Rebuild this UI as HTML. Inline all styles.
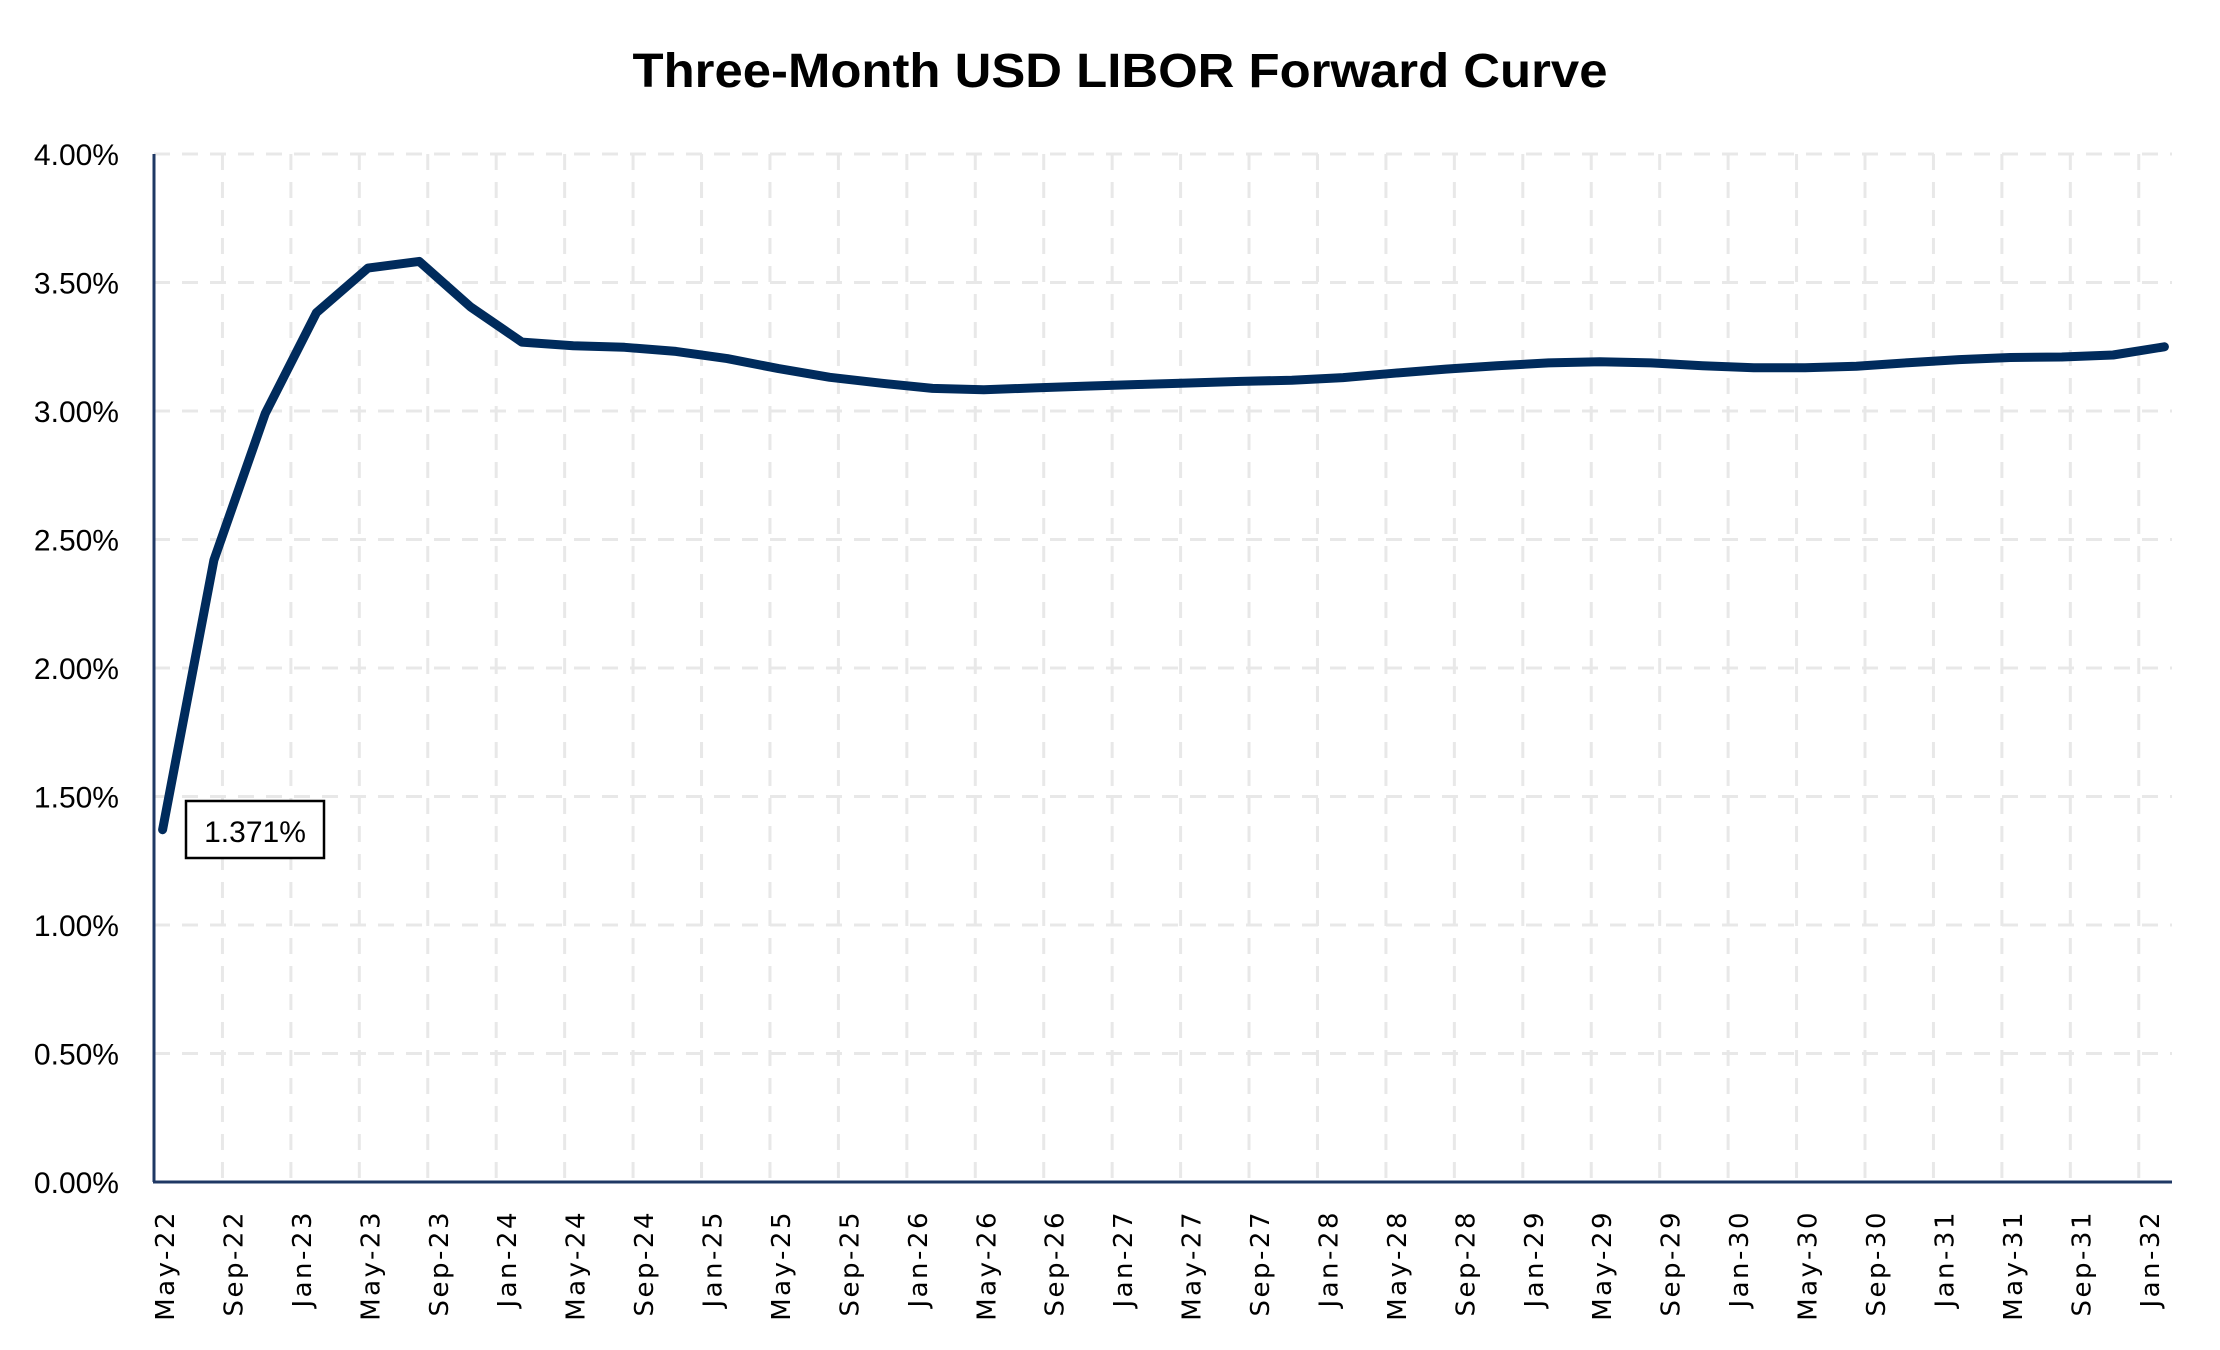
<!DOCTYPE html>
<html><head><meta charset="utf-8"><style>
html,body{margin:0;padding:0;background:#fff;}
svg{display:block;}
</style></head><body>
<svg id="chart" width="2220" height="1350" viewBox="0 0 2220 1350" xmlns="http://www.w3.org/2000/svg">
<text x="1120" y="87" text-anchor="middle" font-family="Liberation Sans, sans-serif" font-weight="bold" font-size="48" textLength="975" lengthAdjust="spacingAndGlyphs">Three-Month USD LIBOR Forward Curve</text>
<g id="grid"></g>
<g id="yticks"></g>
<g id="xticks"></g>
<g id="series"></g>
<g id="axes"></g>
<g id="annot"></g>
</svg>
<script>
const tickLabels = ["May-22","Sep-22","Jan-23","May-23","Sep-23","Jan-24","May-24","Sep-24","Jan-25","May-25","Sep-25","Jan-26","May-26","Sep-26","Jan-27","May-27","Sep-27","Jan-28","May-28","Sep-28","Jan-29","May-29","Sep-29","Jan-30","May-30","Sep-30","Jan-31","May-31","Sep-31","Jan-32"];
const yTicks = [0,0.5,1,1.5,2,2.5,3,3.5,4];
const yTickLabels = ["0.00%","0.50%","1.00%","1.50%","2.00%","2.50%","3.00%","3.50%","4.00%"];
const pointMonths = [0.5,3.5,6.5,9.5,12.5,15.5,18.5,21.5,24.5,27.5,30.5,33.5,36.5,39.5,42.5,45.5,48.5,51.5,54.5,57.5,60.5,63.5,66.5,69.5,72.5,75.5,78.5,81.5,84.5,87.5,90.5,93.5,96.5,99.5,102.5,105.5,108.5,111.5,114.5,117.5];
const rates = [1.371,2.42,2.99,3.383,3.556,3.582,3.405,3.268,3.254,3.248,3.232,3.204,3.165,3.131,3.108,3.088,3.083,3.09,3.097,3.103,3.109,3.115,3.12,3.13,3.147,3.163,3.176,3.187,3.192,3.187,3.176,3.168,3.168,3.174,3.188,3.2,3.208,3.21,3.218,3.25];
const annotationText = "1.371%";

const NS="http://www.w3.org/2000/svg";
const X0=154, MONTH=17.11, XEND=2172, Y0=1182, YTOP=154;
const xs = m => X0 + m*MONTH;
const ys = v => Y0 - (v/4)*(Y0-YTOP);
function mk(tag, attrs, parent){const e=document.createElementNS(NS,tag);for(const k in attrs)e.setAttribute(k,attrs[k]);parent.appendChild(e);return e;}
const grid=document.getElementById('grid'), yt=document.getElementById('yticks'), xt=document.getElementById('xticks');
yTicks.forEach((v,i)=>{
  if(v>0){const l=mk('line',{x1:X0,x2:XEND,y1:ys(v),y2:ys(v),stroke:'#e8e8e8','stroke-width':3,'stroke-dasharray':'16,12'},grid);
  
  }
  const t=mk('text',{x:119,y:ys(v)+11,'text-anchor':'end','font-family':'Liberation Sans, sans-serif','font-size':30},yt);
  
  
  t.textContent=yTickLabels[i];
});
tickLabels.forEach((lab,i)=>{
  const x=xs(i*4);
  if(i>0){const l=mk('line',{x1:x,x2:x,y1:YTOP,y2:Y0,stroke:'#e8e8e8','stroke-width':3,'stroke-dasharray':'16,12'},grid);
  
  }
  const t=mk('text',{x:0,y:0,transform:`translate(${x+20},1210) rotate(-90)`,'text-anchor':'end','font-family':'DejaVu Sans, sans-serif','font-size':26,'letter-spacing':'2.5'},xt);
  
  
  t.textContent=lab;
});
const pts=pointMonths.map((m,i)=>xs(m).toFixed(1)+','+ys(rates[i]).toFixed(1)).join(' ');
const pl=mk('polyline',{points:pts,fill:'none',stroke:'#002b5c','stroke-width':9,'stroke-linejoin':'round','stroke-linecap':'round'},document.getElementById('series'));


const ax=document.getElementById('axes');
const ya=mk('line',{x1:X0,x2:X0,y1:YTOP,y2:Y0,stroke:'#1f3864','stroke-width':3},ax);


const xa=mk('line',{x1:X0-1,x2:XEND,y1:Y0,y2:Y0,stroke:'#1f3864','stroke-width':3},ax);


const an=document.getElementById('annot');
const bx=mk('rect',{x:186,y:801,width:138,height:57,fill:'#fff',stroke:'#000','stroke-width':2.5},an);


const at=mk('text',{x:255,y:842,'text-anchor':'middle','font-family':'Liberation Sans, sans-serif','font-size':30},an);


at.textContent=annotationText;
</script>
</body></html>
